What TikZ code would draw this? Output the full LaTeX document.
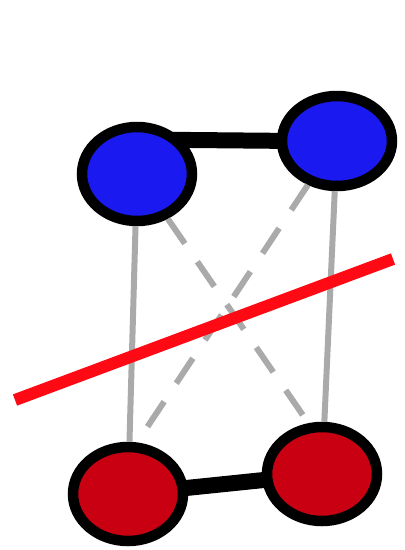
\documentclass[tikz,border=0pt]{standalone}
\usetikzlibrary{shapes.geometric,backgrounds}
\definecolor{bluatomo}{RGB}{26,26,240}
\definecolor{rossoatomo}{RGB}{200,0,18}
\definecolor{grigiolegame}{RGB}{170,170,170}
\definecolor{rossotaglio}{RGB}{255,10,20}
\begin{document}
\begin{tikzpicture}[x=1pt, y=-1pt,
    atomo/.style={draw=black, line width=10.5pt, ellipse, minimum width=110pt, minimum height=94pt, inner sep=0pt},
    legame/.style={line width=16pt, black},
    linea/.style={line width=6pt, grigiolegame},
    tratteggio/.style={linea, dash pattern=on 30pt off 22pt},
    taglio/.style={line width=12pt, rossotaglio}]
    \useasboundingbox (0,0) rectangle (405,550);
    %atomi blu
    \node[atomo, fill=bluatomo] (bs) at (137,174) {};
    \node[atomo, fill=bluatomo, minimum height=90pt] (bd) at (337,141) {};
    %atomi rossi
    \node[atomo, fill=rossoatomo] (rs) at (128,494) {};
    \node[atomo, fill=rossoatomo] (rd) at (322,474) {};

    %legami neri (dietro agli atomi)
    \begin{pgfonlayer}{background}
    \draw[legame] ([xshift=-20pt]bs.37) -- ([xshift=20pt]bd.west);
    \draw[legame] (rs.center) -- (rd.center);
    \end{pgfonlayer}
    %linee grigie
    \draw[linea] (bs) -- (rs);
    \draw[linea] (bd) -- (rd);
    \draw[tratteggio] (bs) -- (rd.105);
    \draw[tratteggio] (bd) -- (rs.80);

    %linea rossa
    \coordinate (ts) at (15,400);
    \coordinate (td) at (393,259);
    \draw[taglio] (ts) -- (td);
\end{tikzpicture}
\end{document}
